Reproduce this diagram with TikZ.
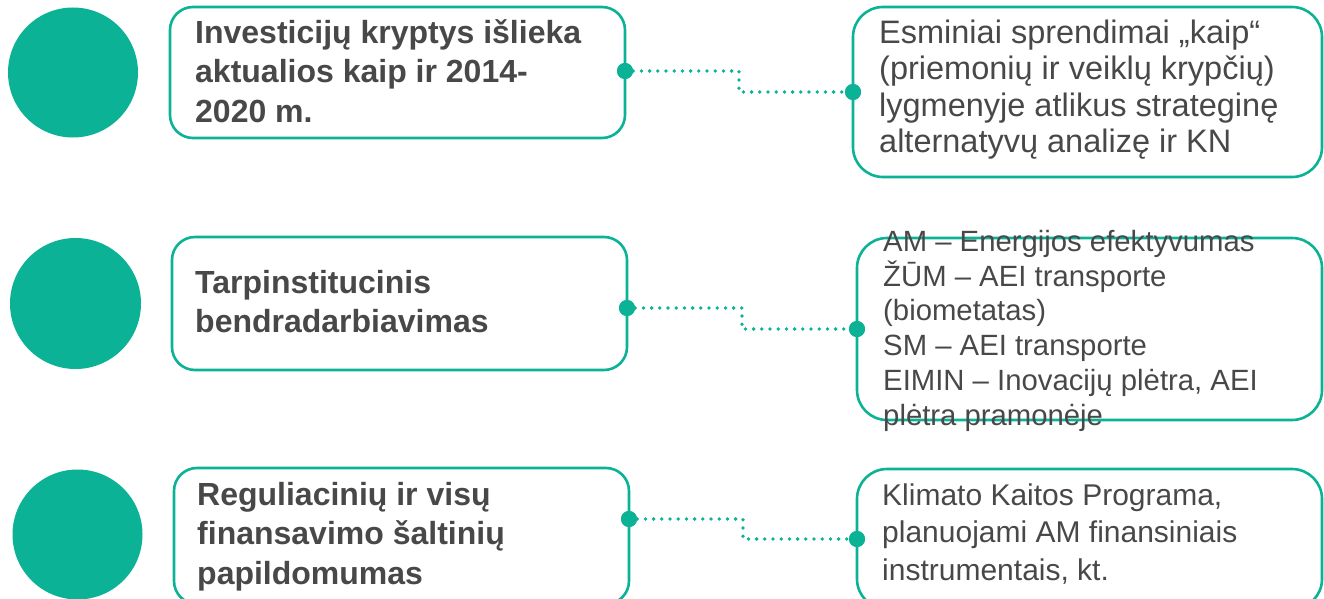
\documentclass[tikz,border=0pt]{standalone}
\usepackage{fontspec}
\setmainfont{Liberation Sans}
\usetikzlibrary{calc}
\definecolor{teal1}{HTML}{0BB295}
\definecolor{txt}{HTML}{484848}
\newcommand{\tstrut}{\rule{0pt}{30pt}}
\tikzset{
  bigdot/.style={circle, fill=teal1, draw=none, minimum size=130pt, inner sep=0pt},
  lbox/.style={draw=teal1, line width=2.6pt, rounded corners=23pt, minimum width=455pt, inner sep=0pt},
  rbox/.style={draw=teal1, line width=2.6pt, rounded corners=30pt, inner sep=0pt},
  endpt/.style={circle, fill=teal1, draw=none, minimum size=16pt, inner sep=0pt},
  conn/.style={teal1, line width=3.8pt, line cap=round, dash pattern=on 0pt off 8.2pt},
  ltext/.style={anchor=north west, inner sep=0pt, align=left, text=txt, font=\fontsize{32}{39.5}\selectfont\bfseries},
  rtext/.style={anchor=north west, inner sep=0pt, align=left, text=txt},
}
\begin{document}
\begin{tikzpicture}[x=1pt, y=-1pt]
\useasboundingbox (0,0) rectangle (1324,599);
% circles
\node[bigdot] (c1) at (73,72.5) {};
\node[bigdot, minimum size=131pt] (c2) at (75.5,303.5) {};
\node[bigdot] (c3) at (77.5,534.5) {};
% left boxes
\node[lbox, minimum height=131pt] (lb1) at (397.5,72.5) {};
\node[lbox, minimum height=133pt] (lb2) at (399.5,303.5) {};
\node[lbox, minimum height=136pt] (lb3) at (401.5,536) {};
% right boxes
\node[rbox, minimum width=469pt, minimum height=170pt] (rb1) at (1087.5,92) {};
\node[rbox, minimum width=465pt, minimum height=182pt] (rb2) at (1089.5,329) {};
\node[rbox, minimum width=465pt, minimum height=140pt] (rb3) at (1089.5,539) {};
% left texts
\node[ltext] (lt1) at (195,13) {\tstrut Investicijų kryptys išlieka\\aktualios kaip ir 2014-\\2020 m.};
\node[ltext] (lt2) at (195,263) {\tstrut Tarpinstitucinis\\bendradarbiavimas};
\node[ltext] (lt3) at (197,475) {\tstrut Reguliacinių ir visų\\finansavimo šaltinių\\papildomumas};
% right texts
\node[rtext, font=\fontsize{32.5}{36.5}\selectfont] (rt1) at (879,13) {\tstrut Esminiai sprendimai „kaip“\\(priemonių ir veiklų krypčių)\\lygmenyje atlikus strateginę\\alternatyvų analizę ir KN};
\node[rtext, font=\fontsize{29.3}{34.8}\selectfont] (rt2) at (883,221) {\tstrut AM – Energijos efektyvumas\\ŽŪM – AEI transporte\\(biometatas)\\SM – AEI transporte\\EIMIN – Inovacijų plėtra, AEI\\plėtra pramonėje};
\node[rtext, font=\fontsize{30}{37.5}\selectfont] (rt3) at (882,475) {\tstrut Klimato Kaitos Programa,\\planuojami AM finansiniais\\instrumentais, kt.};
% connector end points
\node[endpt] (d1a) at (625,71) {};
\node[endpt] (d1b) at (853,92) {};
\node[endpt] (d2a) at (627,308) {};
\node[endpt] (d2b) at (857,329) {};
\node[endpt] (d3a) at (629,519) {};
\node[endpt] (d3b) at (857,539) {};
% connectors
\draw[conn] (d1a.center) -| ($(d1a.center)!0.5!(d1b.center)$) |- (d1b.center);
\draw[conn] (d2a.center) -| ($(d2a.center)!0.5!(d2b.center)$) |- (d2b.center);
\draw[conn] (d3a.center) -| ($(d3a.center)!0.5!(d3b.center)$) |- (d3b.center);
\node[endpt] at (d1a) {};
\node[endpt] at (d1b) {};
\node[endpt] at (d2a) {};
\node[endpt] at (d2b) {};
\node[endpt] at (d3a) {};
\node[endpt] at (d3b) {};
\end{tikzpicture}
\end{document}
